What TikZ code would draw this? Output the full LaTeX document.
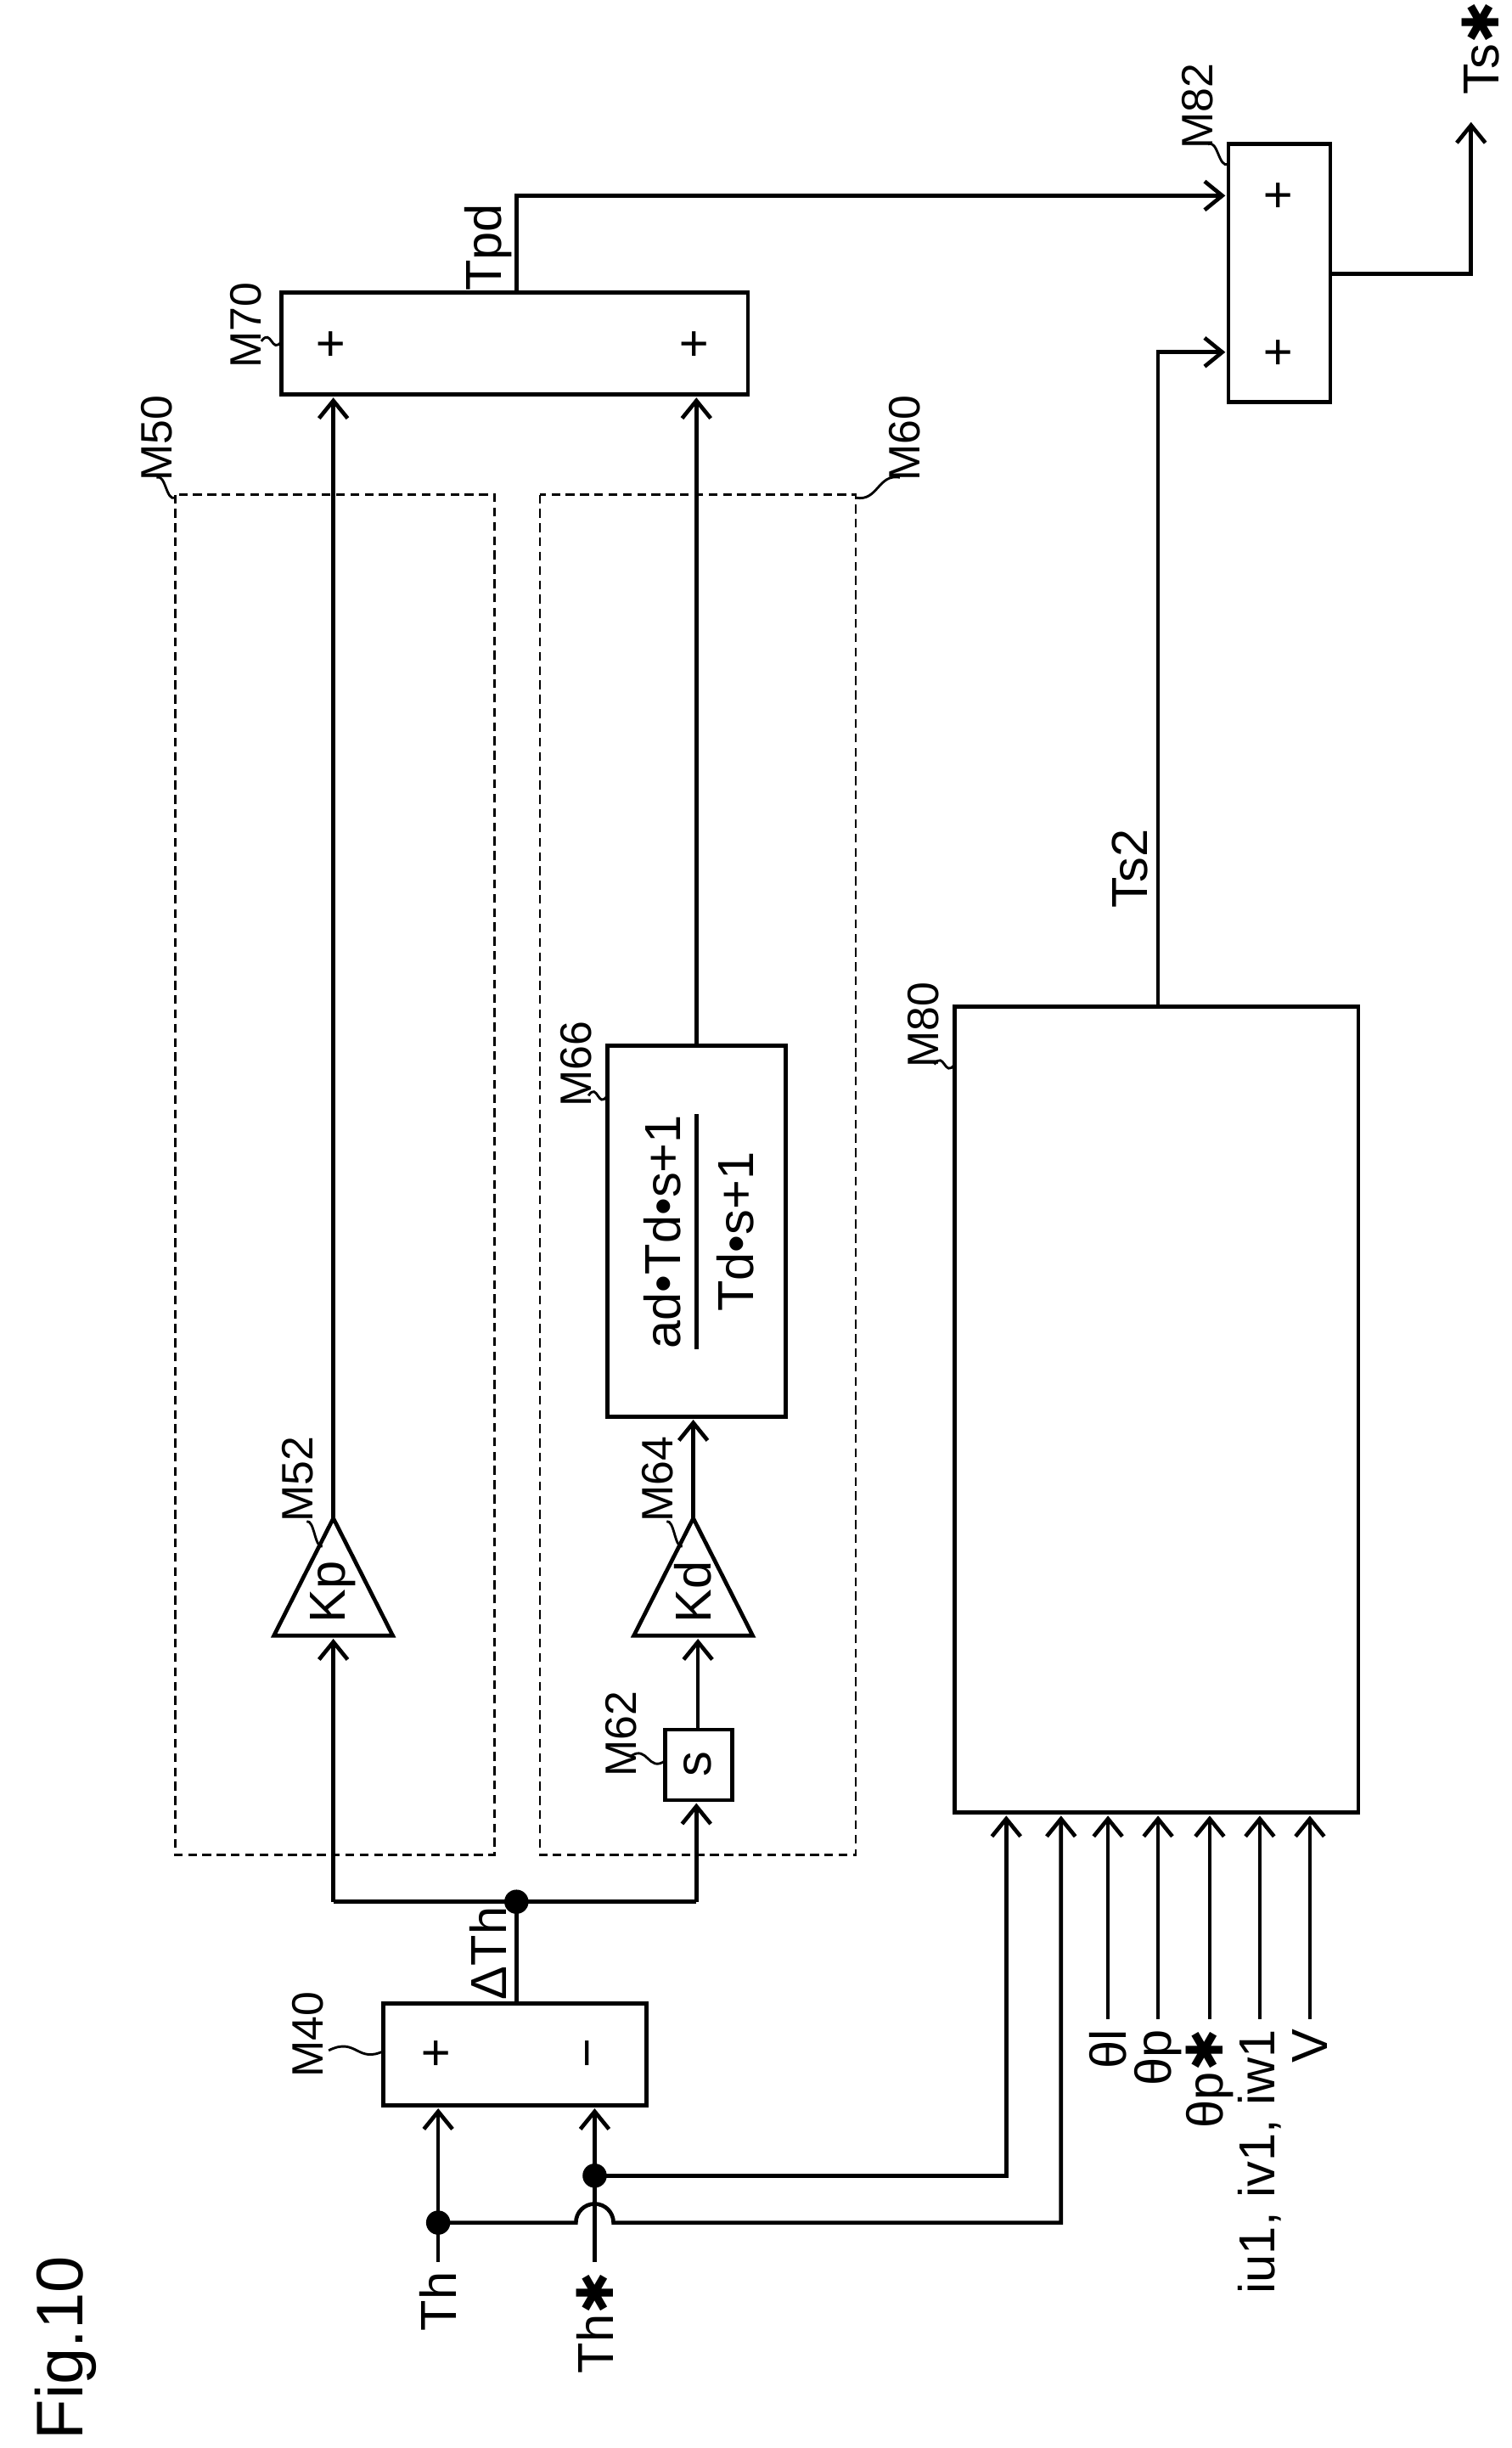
\documentclass[tikz,border=0pt]{standalone}
\usepackage{fontspec}
\setmainfont{Liberation Sans}
\newfontfamily\djvfont{DejaVu Sans}
\usetikzlibrary{arrows.meta,calc}
\newcommand\myast{{\djvfont ✱}}
\begin{document}
\begin{tikzpicture}[x=0.05cm,y=-0.05cm,
 ln/.style={line width=3.6pt},
 thin/.style={line width=2.2pt},
 ar/.style={ln,-{Straight Barb[length=16pt,width=26pt,line width=3.6pt]}},
 bx/.style={draw,line width=3.6pt},
 dsh/.style={draw,line width=1.8pt,dash pattern=on 8pt off 5pt},
 tx/.style={font=\fontsize{46}{52}\selectfont,rotate=90,inner sep=2pt},
 lb/.style={font=\fontsize{40}{46}\selectfont,rotate=90,inner sep=1pt},
 dot/.style={circle,fill,inner sep=0pt,minimum size=22pt}]
\useasboundingbox (0,0) rectangle (966,1564);
\newcommand\lead[2]{\draw[thin] (#1) .. controls ($(#1)!0.5!(#2)+(0,-9)$) and ($(#1)!0.5!(#2)+(0,9)$) .. (#2);}
% title
\node[font=\fontsize{60}{64}\selectfont,rotate=90] (fig) at (42,1500) {Fig.10};
% boxes
\draw[bx] (245,1280) rectangle (413,1345); \coordinate (M40) at (329,1312);
\node[tx] (p40) at (280,1312) {+}; \node[tx] (m40) at (380,1312) {−};
\draw[bx] (425,1105) rectangle (468,1150); \node[tx] (s) at (446,1127) {s};
\draw[bx] (388,668) rectangle (502,905);
\node[tx] (num) at (423,787) {ad•Td•s+1};
\node[tx] (den) at (470,787) {Td•s+1};
\draw[ln] (445,712) -- (445,862);
\draw[bx] (180,187) rectangle (478,252);
\node[tx] (p70a) at (213,220) {+}; \node[tx] (p70b) at (445,220) {+};
\draw[bx] (785,92) rectangle (850,257);
\node[tx] (p82a) at (818,125) {+}; \node[tx] (p82b) at (818,225) {+};
\draw[bx] (610,643) rectangle (868,1158);
% triangles
\draw[bx] (175,1045) -- (251,1045) -- (213,970) -- cycle; \node[tx] (kp) at (213,1017) {Kp};
\draw[bx] (405,1045) -- (481,1045) -- (443,970) -- cycle; \node[tx] (kd) at (443,1017) {Kd};
% dashed
\draw[dsh] (112,316) rectangle (316,1185);
\draw[dsh] (345,316) rectangle (547,1185);
% inputs
\node[tx,anchor=east] (th) at (280,1450) {Th};
\node[tx,anchor=east] (ths) at (380,1450) {Th\myast};
\draw[ar] (280,1445) -- (280,1347);
\draw[ar] (380,1445) -- (380,1347);
\node[dot] (d1) at (280,1420) {}; \node[dot] (d2) at (380,1390) {};
\draw[ar] (280,1420) -- (368,1420) arc[start angle=180,end angle=360,radius=12] -- (678,1420) -- (678,1160);
\draw[ar] (380,1390) -- (643,1390) -- (643,1160);
% delta Th
\draw[ln] (330,1280) -- (330,1215);
\node[tx] (dth) at (312,1248) {ΔTh};
\node[dot] (d3) at (330,1215) {};
\draw[ln] (213,1215) -- (445,1215);
\draw[ar] (213,1215) -- (213,1047);
\draw[ar] (445,1215) -- (445,1152);
\draw[ar] (446,1105) -- (446,1047);
\draw[ar] (213,970) -- (213,254);
\draw[ar] (443,970) -- (443,907);
\draw[ar] (445,668) -- (445,254);
% Tpd
\draw[ar] (330,187) -- (330,125) -- (783,125);
\node[tx] (tpd) at (312,158) {Tpd};
% Ts2
\draw[ar] (740,643) -- (740,225) -- (783,225);
\node[tx] (ts2) at (722,555) {Ts2};
% output
\draw[ar] (850,175) -- (940,175) -- (940,78);
\node[tx,anchor=west] (tss) at (946,62) {Ts\myast};
% M80 inputs
\foreach \x/\t/\n in {708/θl/a,740/θp/b,773/θp\myast/c,805/{iu1, iv1, iw1}/d,837/V/e}{
 \draw[ar] (\x,1290) -- (\x,1160);
 \node[tx,anchor=east] (in\n) at (\x,1295) {\t};}
% labels
\node[lb] (l40) at (197,1300) {M40}; \lead{210,1310}{246,1310}
\node[lb] (l50) at (100,280) {M50}; \lead{100,305}{112,318}
\node[lb] (l60) at (578,280) {M60}; \lead{575,305}{547,318}
\node[lb] (l52) at (190,945) {M52}; \lead{196,972}{206,988}
\node[lb] (l64) at (420,945) {M64}; \lead{426,972}{436,988}
\node[lb] (l62) at (397,1108) {M62}; \lead{403,1122}{425,1125}
\node[lb] (l66) at (368,680) {M66}; \lead{376,700}{388,700}
\node[lb] (l70) at (157,208) {M70}; \lead{167,218}{180,218}
\node[lb] (l80) at (590,655) {M80}; \lead{597,680}{610,680}
\node[lb] (l82) at (765,68) {M82}; \lead{772,92}{785,105}
\end{tikzpicture}
\end{document}
